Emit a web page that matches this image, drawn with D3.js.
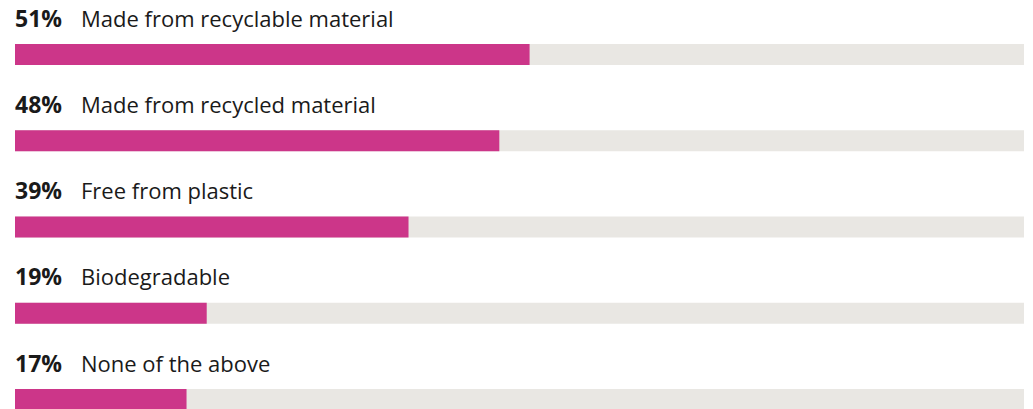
<!DOCTYPE html>
<html>
<head>
<meta charset="utf-8">
<script src="https://cdn.jsdelivr.net/npm/d3@7"></script>
<style>
  html, body { margin: 0; padding: 0; background: #fff; }
  svg { display: block; }
</style>
</head>
<body>
<svg id="chart" width="1033" height="409"></svg>
<script>
// data
var labels = ["Made from recyclable material", "Made from recycled material", "Free from plastic", "Biodegradable", "None of the above"];
var values = [51, 48, 39, 19, 17];

var svg = d3.select("#chart");
var width = +svg.attr("width"), height = +svg.attr("height");

var margin = {left: 15, right: 9},
    barH = 21,
    barTop = 44,
    rowStep = 86.25;

var x = d3.scaleLinear()
    .domain([0, 100])
    .range([margin.left, width - margin.right]);

var y = d3.scaleBand()
    .domain(labels)
    .range([0, rowStep * labels.length]);

var rows = svg.selectAll("g.row")
    .data(labels.map(function(l, i) { return {label: l, value: values[i]}; }))
    .enter().append("g")
      .attr("class", "row")
      .attr("transform", function(d) { return "translate(0," + y(d.label) + ")"; });

// track
rows.append("rect")
    .attr("x", x(0))
    .attr("y", barTop)
    .attr("width", x(100) - x(0))
    .attr("height", barH)
    .attr("fill", "#e9e7e3");

// value bar
rows.append("rect")
    .attr("x", x(0))
    .attr("y", barTop)
    .attr("width", function(d) { return x(d.value) - x(0); })
    .attr("height", barH)
    .attr("fill", "#cc3689");

var txt = rows.append("text")
    .attr("x", x(0))
    .attr("y", barTop - 17.5)
    .attr("font-family", "'Open Sans', 'Noto Sans', sans-serif")
    .attr("font-size", 22)
    .attr("fill", "#1a1a1a");

txt.append("tspan")
    .attr("font-weight", "bold")
    .attr("font-size", 23)
    .text(function(d) { return d.value + "%"; });

txt.append("tspan")
    .attr("x", 81)
    .text(function(d) { return d.label; });
</script>
</body>
</html>
